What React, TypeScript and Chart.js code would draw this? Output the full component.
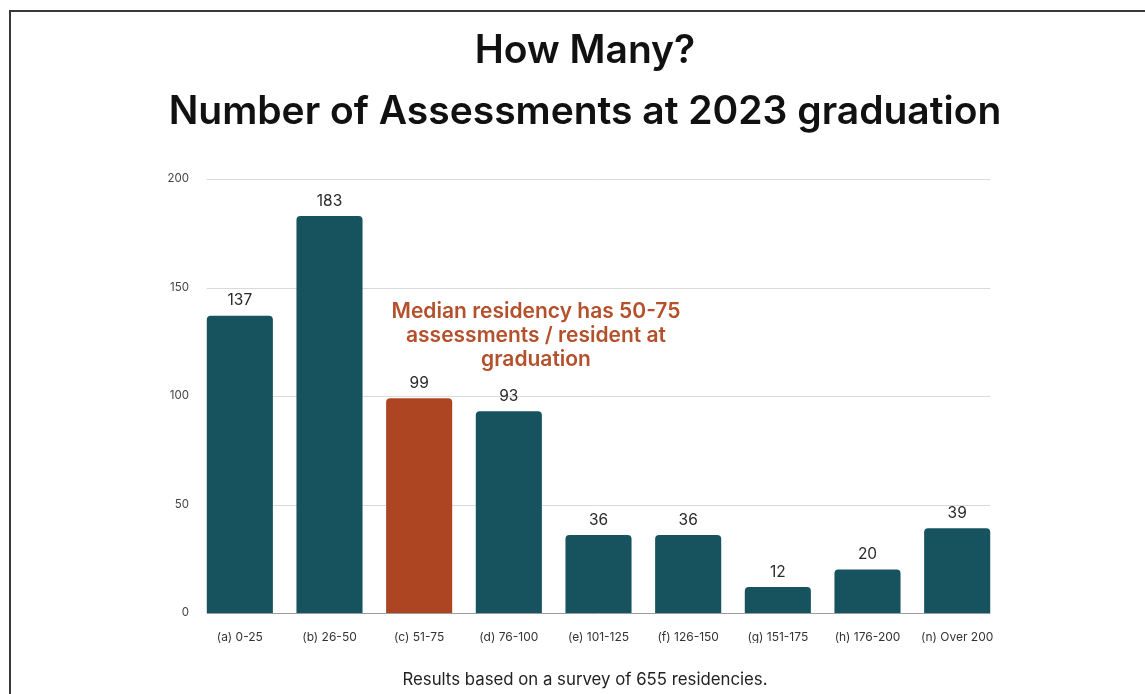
import React, { useEffect, useRef } from "react";
import { Chart, registerables } from "chart.js";

Chart.register(...registerables);

const categories = [
  "(a) 0-25",
  "(b) 26-50",
  "(c) 51-75",
  "(d) 76-100",
  "(e) 101-125",
  "(f) 126-150",
  "(g) 151-175",
  "(h) 176-200",
  "(n) Over 200",
];
const values = [137, 183, 99, 93, 36, 36, 12, 20, 39];
const highlightIndex = 2;
const yTickValues = [0, 50, 100, 150, 200];
const titleLines = ["How Many?", "Number of Assessments at 2023 graduation"];
const footnote = "Results based on a survey of 655 residencies.";
const annotationLines = [
  "Median residency has 50-75",
  "assessments / resident at",
  "graduation",
];
const annotationValue = 139;

const TEAL = "#17525f";
const ORANGE = "#ad4422";
const ANNOT = "#b4502b";
const FONT = "Inter, 'Open Sans', sans-serif";

const gridPlugin = {
  id: "customGrid",
  beforeDatasetsDraw(chart: any) {
    const meta = chart.getDatasetMeta(0);
    const y = chart.scales.y;
    if (!meta.data.length) return;
    const first = meta.data[0];
    const last = meta.data[meta.data.length - 1];
    const x0 = first.x - first.width / 2;
    const x1 = last.x + last.width / 2;
    const ctx = chart.ctx;
    ctx.save();
    ctx.lineWidth = 1;
    ctx.strokeStyle = "#dadada";
    yTickValues.forEach((v) => {
      if (v === 0) return;
      const py = Math.round(y.getPixelForValue(v)) + 0.5;
      ctx.beginPath();
      ctx.moveTo(x0, py);
      ctx.lineTo(x1, py);
      ctx.stroke();
    });
    ctx.restore();
  },
  afterDatasetsDraw(chart: any) {
    const meta = chart.getDatasetMeta(0);
    const y = chart.scales.y;
    const ctx = chart.ctx;
    if (!meta.data.length) return;
    const first = meta.data[0];
    const last = meta.data[meta.data.length - 1];
    const x0 = first.x - first.width / 2;
    const x1 = last.x + last.width / 2;
    ctx.save();
    ctx.strokeStyle = "#9c9c9c";
    ctx.lineWidth = 1;
    const py = Math.round(y.getPixelForValue(0)) + 0.5;
    ctx.beginPath();
    ctx.moveTo(x0, py);
    ctx.lineTo(x1, py);
    ctx.stroke();

    // value labels
    ctx.fillStyle = "#2a2a2a";
    ctx.font = `400 15.5px ${FONT}`;
    ctx.textAlign = "center";
    ctx.textBaseline = "middle";
    meta.data.forEach((bar: any, i: number) => {
      ctx.fillText(String(values[i]), bar.x, bar.y - 15);
    });

    // annotation
    ctx.fillStyle = ANNOT;
    ctx.font = `600 21px ${FONT}`;
    const ay = y.getPixelForValue(annotationValue);
    annotationLines.forEach((line, i) => {
      ctx.fillText(line, 536, ay + i * 24);
    });
    ctx.restore();
  },
};

export default function App() {
  const canvasRef = useRef<HTMLCanvasElement | null>(null);

  useEffect(() => {
    document.body.style.margin = "0";
    const canvas = canvasRef.current;
    if (!canvas) return;
    const chart = new Chart(canvas, {
      type: "bar",
      data: {
        labels: categories,
        datasets: [
          {
            data: values,
            backgroundColor: values.map((_, i) =>
              i === highlightIndex ? ORANGE : TEAL
            ),
            borderRadius: 4,
            borderSkipped: "start",
            categoryPercentage: 1,
            barPercentage: 0.737,
          },
        ],
      },
      options: {
        responsive: false,
        animation: false,
        devicePixelRatio: 1,
        layout: { padding: { left: 25, right: 0, top: 0, bottom: 0 } },
        plugins: {
          legend: { display: false },
          tooltip: { enabled: false },
          title: {
            display: true,
            text: titleLines,
            color: "#111111",
            font: { family: FONT, size: 39, weight: 600, lineHeight: "61px" },
            padding: { top: 21, bottom: 36 },
          },
          subtitle: {
            display: true,
            position: "bottom",
            text: footnote,
            color: "#222222",
            font: { family: FONT, size: 16.8, weight: "normal", lineHeight: "18px" },
            padding: { top: 28, bottom: 5 },
          },
        },
        scales: {
          x: {
            grid: { display: false },
            border: { display: false },
            ticks: {
              color: "#333333",
              font: { family: FONT, size: 12 },
              padding: 9,
              maxRotation: 0,
              autoSkip: false,
            },
            afterFit(scale: any) {
              scale.height = 30;
            },
          },
          y: {
            min: 0,
            max: 200,
            grid: { display: false },
            border: { display: false },
            afterBuildTicks(scale: any) {
              scale.ticks = yTickValues.map((v) => ({ value: v }));
            },
            ticks: {
              color: "#444444",
              font: { family: FONT, size: 11.5 },
              padding: -2,
            },
            afterFit(scale: any) {
              scale.width = 170;
            },
          },
          y2: {
            position: "right",
            display: true,
            grid: { display: false },
            border: { display: false },
            ticks: { display: false },
            afterFit(scale: any) {
              scale.width = 143;
            },
          },
        },
      },
      plugins: [gridPlugin],
    } as any);
    return () => chart.destroy();
  }, []);

  return (
    <div
      style={{
        position: "relative",
        width: 1145,
        height: 694,
        overflow: "hidden",
        background: "#ffffff",
      }}
    >
      <div
        style={{
          position: "absolute",
          left: 9,
          top: 10,
          width: 1300,
          height: 900,
          border: "2px solid #383838",
          boxSizing: "border-box",
        }}
      />
      <canvas
        ref={canvasRef}
        width={1145}
        height={694}
        style={{ position: "absolute", left: 0, top: 0, width: 1145, height: 694 }}
      />
    </div>
  );
}
